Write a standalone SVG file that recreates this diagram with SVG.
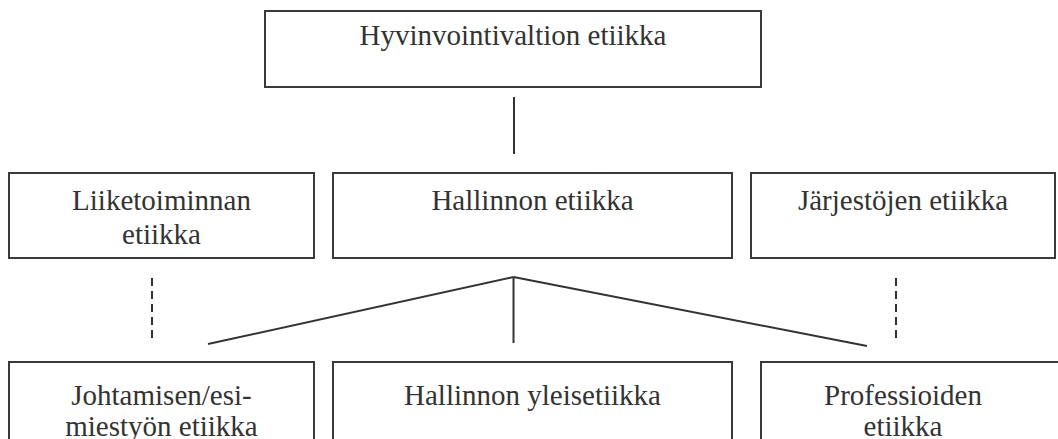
<svg xmlns="http://www.w3.org/2000/svg" width="1058" height="439" viewBox="0 0 1058 439">
  <style>
    .box { fill: #ffffff; stroke: #3a3a3a; stroke-width: 2; }
    .label { font-size: 29px; fill: #333333; text-anchor: middle; }
    .link { stroke: #333333; stroke-width: 2; fill: none; }
    .dashed { stroke-dasharray: 8 5; }
  </style>
  <rect width="1058" height="439" fill="#ffffff"/>

  <g id="connectors">
    <line class="link" x1="514" y1="97" x2="514" y2="154"/>
    <line class="link" x1="513.5" y1="277" x2="208" y2="344"/>
    <line class="link" x1="513.5" y1="277" x2="867" y2="346"/>
    <line class="link" x1="513.5" y1="277" x2="513.5" y2="343"/>
    <line class="link dashed" x1="152" y1="278" x2="152" y2="343"/>
    <line class="link dashed" x1="896" y1="278" x2="896" y2="343"/>
  </g>

  <g font-family="Liberation Serif, Times New Roman, DejaVu Serif, serif">
    <g id="hyvinvointivaltio">
      <rect class="box" x="265" y="11" width="496" height="76"/>
      <text class="label" x="513" y="45">Hyvinvointivaltion etiikka</text>
    </g>

    <g id="liiketoiminta">
      <rect class="box" x="9" y="173" width="305" height="85"/>
      <text class="label" x="161.5" y="210">Liiketoiminnan</text>
      <text class="label" x="161.5" y="244">etiikka</text>
    </g>

    <g id="hallinto">
      <rect class="box" x="333" y="173" width="399" height="85"/>
      <text class="label" x="532.5" y="210">Hallinnon etiikka</text>
    </g>

    <g id="jarjestot">
      <rect class="box" x="751" y="173" width="304" height="85"/>
      <text class="label" x="903" y="210">Järjestöjen etiikka</text>
    </g>

    <g id="johtaminen">
      <rect class="box" x="9" y="362" width="305" height="100"/>
      <text class="label" x="161.5" y="405">Johtamisen/esi-</text>
      <text class="label" x="161.5" y="436">miestyön etiikka</text>
    </g>

    <g id="yleisetiikka">
      <rect class="box" x="333" y="362" width="399" height="100"/>
      <text class="label" x="532.5" y="405">Hallinnon yleisetiikka</text>
    </g>

    <g id="professiot">
      <rect class="box" x="761" y="362" width="320" height="100"/>
      <text class="label" x="903" y="405">Professioiden</text>
      <text class="label" x="903" y="436">etiikka</text>
    </g>
  </g>
</svg>
